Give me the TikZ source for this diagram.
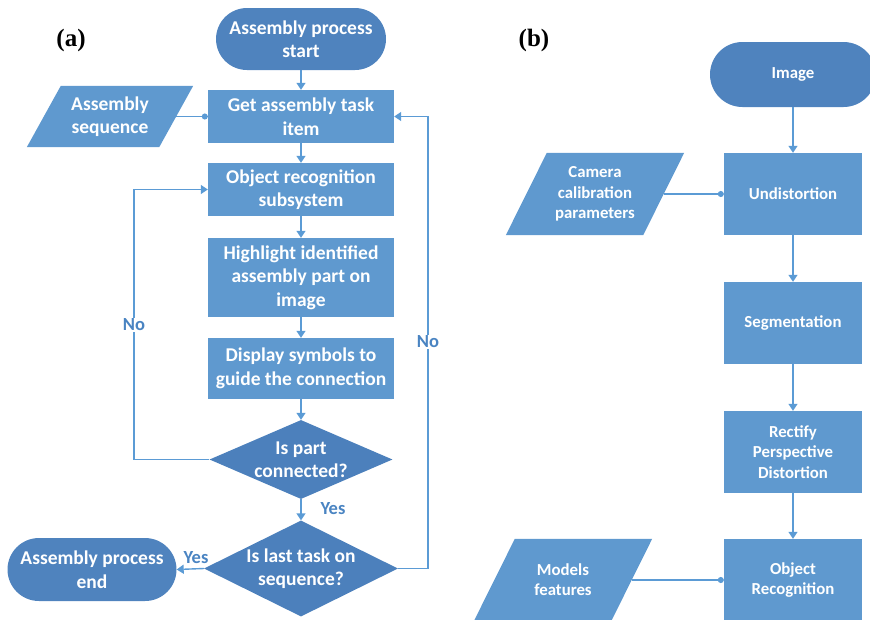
\documentclass[tikz,border=0pt]{standalone}
\usepackage{fontspec}
\setmainfont{Carlito}
\newfontfamily\lblfont{Liberation Serif}
\usetikzlibrary{shapes.geometric,arrows.meta,calc}
\definecolor{termc}{HTML}{4F83BE}
\definecolor{boxc}{HTML}{5F99CF}
\definecolor{diac}{HTML}{4C80BC}
\definecolor{linec}{HTML}{5B9BD5}
\definecolor{lblc}{HTML}{4A84C2}
\tikzset{
  txtA/.style={text=white,font=\fontsize{19.5}{23.5}\selectfont\bfseries,align=center},
  txtB/.style={text=white,font=\fontsize{16.8}{20.3}\selectfont\bfseries,align=center},
  terminal/.style={rectangle,fill=termc,inner sep=0pt},
  procbox/.style={rectangle,fill=boxc,inner sep=0pt},
  decision/.style={diamond,fill=diac,inner sep=0pt},
  paraghost/.style={rectangle,inner sep=0pt},
  conn/.style={draw=linec,line width=1.4pt,-{Triangle[length=7pt,width=9pt]}},
  dotconn/.style={draw=linec,line width=1.4pt,-{Circle[length=6pt]}},
  plain/.style={draw=linec,line width=1.4pt},
  branch/.style={text=lblc,font=\fontsize{18.5}{20}\selectfont\bfseries,fill=white,inner sep=1pt},
  panel/.style={font=\lblfont\fontsize{25}{27}\selectfont\bfseries}
}
\begin{document}
\begin{tikzpicture}[x=1pt,y=-1pt]
\useasboundingbox (0,0) rectangle (870,619);
% ---------- (a) ----------
\node[panel] (la) at (71,40) {(a)};
\node[terminal,minimum width=170pt,minimum height=62pt,rounded corners=31pt,txtA] (start) at (301,39) {Assembly process\\start};
\node[procbox,minimum width=186pt,minimum height=53pt,txtA] (get) at (301,116.5) {Get assembly task\\item};
\node[procbox,minimum width=186pt,minimum height=53pt,txtA] (obj) at (301,189.5) {Object recognition\\subsystem};
\node[procbox,minimum width=186pt,minimum height=79pt,txtA] (hl) at (301,277.5) {Highlight identified\\assembly part on\\image};
\node[procbox,minimum width=186pt,minimum height=61pt,txtA] (disp) at (301,368.5) {Display symbols to\\guide the connection};
\node[decision,minimum width=183pt,minimum height=79pt] (d1) at (301,459.5) {};
\node[txtA] at (d1) {Is part\\connected?};
\node[decision,minimum width=194pt,minimum height=96pt] (d2) at (301,568.5) {};
\node[txtA] at (d2) {Is last task on\\sequence?};
\node[terminal,minimum width=169pt,minimum height=63pt,rounded corners=31.5pt,txtA] (endn) at (92,569.5) {Assembly process\\end};
\node[paraghost,minimum width=132pt,minimum height=61pt] (seq) at (110,116.5) {};
\fill[boxc] ($(seq.south west)+(-17,0)$) -- ($(seq.south east)+(-17,0)$) -- ($(seq.north east)+(17,0)$) -- ($(seq.north west)+(17,0)$) -- cycle;
\node[txtA] at (seq) {Assembly\\sequence};

\draw[conn] (start) -- (get);
\draw[conn] (get) -- (obj);
\draw[conn] (obj) -- (hl);
\draw[conn] (hl) -- (disp);
\draw[conn] (disp) -- (d1);
\draw[conn] (d1) -- (d2);
\draw[dotconn] (seq.east) -- (get.west);
\draw[conn] (d2.west) -- (endn.east);
\coordinate (nl) at (134,325);
\coordinate (nr) at (428,342);
\draw[conn] (d1.west) -- (d1.west -| nl) -- (nl |- obj.west) -- (obj.west);
\draw[conn] (d2.east) -- (d2.east -| nr) -- (nr |- get.east) -- (get.east);
\node[branch] (nol) at (nl) {No};
\node[branch] (nor) at (nr) {No};
\node[branch,fill=none] (yes1) at (333,509) {Yes};
\node[branch,fill=none] (yes2) at (196,558) {Yes};
% ---------- (b) ----------
\node[panel] (lb) at (534,40) {(b)};
\node[terminal,minimum width=166pt,minimum height=65pt,rounded corners=32.5pt,txtB] (img) at (793,74.5) {Image};
\node[procbox,minimum width=138pt,minimum height=82pt,txtB] (und) at (793,194) {Undistortion};
\node[procbox,minimum width=138pt,minimum height=82pt,txtB] (seg) at (793,323) {Segmentation};
\node[procbox,minimum width=138pt,minimum height=82pt,txtB] (rect) at (793,452) {Rectify\\Perspective\\Distortion};
\node[procbox,minimum width=138pt,minimum height=82pt,txtB] (orec) at (793,580) {Object\\Recognition};
\node[paraghost,minimum width=137pt,minimum height=82pt] (cam) at (595,194) {};
\fill[boxc] ($(cam.south west)+(-20.5,0)$) -- ($(cam.south east)+(-20.5,0)$) -- ($(cam.north east)+(20.5,0)$) -- ($(cam.north west)+(20.5,0)$) -- cycle;
\node[txtB] at (cam) {Camera\\calibration\\parameters};
\node[paraghost,minimum width=137pt,minimum height=82pt] (mod) at (563,580) {};
\fill[boxc] ($(mod.south west)+(-20.5,0)$) -- ($(mod.south east)+(-20.5,0)$) -- ($(mod.north east)+(20.5,0)$) -- ($(mod.north west)+(20.5,0)$) -- cycle;
\node[txtB] at (mod) {Models\\features};
\draw[conn] (img) -- (und);
\draw[conn] (und) -- (seg);
\draw[conn] (seg) -- (rect);
\draw[conn] (rect) -- (orec);
\draw[dotconn] (cam.east) -- (und.west);
\draw[dotconn] (mod.east) -- (orec.west);
\end{tikzpicture}
\end{document}
